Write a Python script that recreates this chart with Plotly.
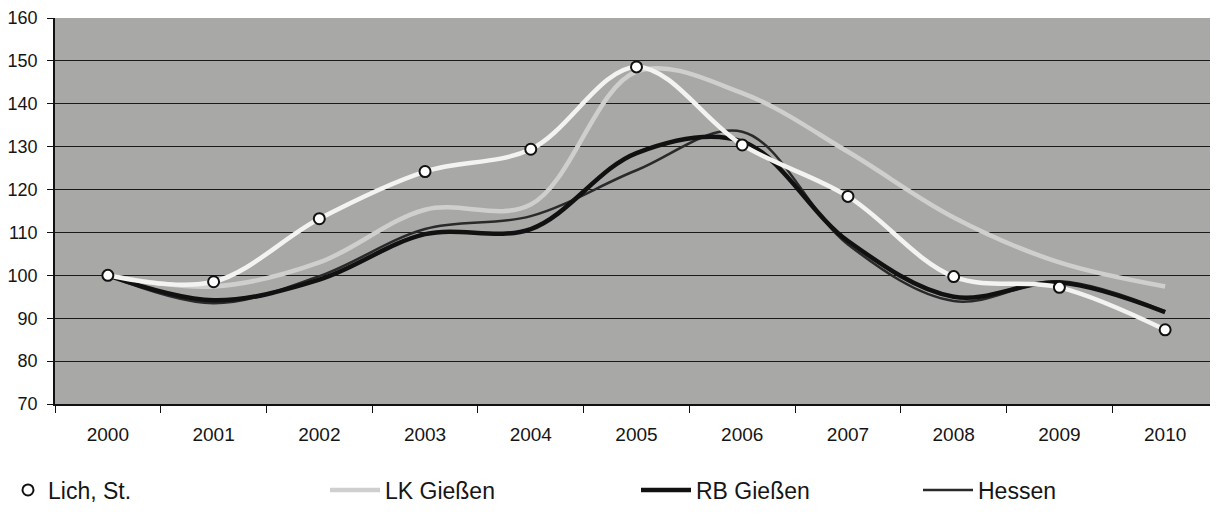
import plotly.graph_objects as go

years = ["2000", "2001", "2002", "2003", "2004", "2005", "2006", "2007", "2008", "2009", "2010"]
lich = [100, 98.5, 113.2, 124.2, 129.4, 148.6, 130.4, 118.4, 99.7, 97.2, 87.3]
lk_giessen = [100, 97.4, 103, 115.3, 116.5, 147.5, 142.5, 128.8, 113.5, 103, 97.4]
rb_giessen = [100, 94.2, 99, 109.6, 110.8, 128.5, 131.2, 108, 95, 98.3, 91.4]
hessen = [100, 93.5, 99.8, 110.8, 113.8, 124.5, 133.5, 107.2, 94, 98.6, 91.6]

y_ticks = [70, 80, 90, 100, 110, 120, 130, 140, 150, 160]

FONT = "Liberation Sans, Arial"
# page offset caused by the default 8px body margin
OFF = 8
W, H = 1210, 503
L, T = 55 - OFF, 18 - OFF
B = H - (404 - OFF)
R = 0


def cx(page_px):
    return max(page_px - OFF, 0) / W


def cy(page_py):
    return 1 - (page_py - OFF) / H


fig = go.Figure()

fig.add_trace(go.Scatter(
    x=years, y=lk_giessen, mode="lines", name="LK Gießen",
    line=dict(color="#cfcfcd", width=4.5, shape="spline", smoothing=1),
    legend="legend2"))
fig.add_trace(go.Scatter(
    x=years, y=hessen, mode="lines", name="Hessen",
    line=dict(color="#2a2a2a", width=2.5, shape="spline", smoothing=1),
    legend="legend4"))
fig.add_trace(go.Scatter(
    x=years, y=rb_giessen, mode="lines", name="RB Gießen",
    line=dict(color="#111111", width=4.5, shape="spline", smoothing=1),
    legend="legend3"))
fig.add_trace(go.Scatter(
    x=years, y=lich, mode="lines", name="Lich, St.", showlegend=False,
    line=dict(color="#f3f3f1", width=4.5, shape="spline", smoothing=1)))
fig.add_trace(go.Scatter(
    x=years, y=lich, mode="markers", name="Lich, St.",
    marker=dict(symbol="circle", size=11, color="white",
                line=dict(color="#111111", width=2)),
    legend="legend"))

leg_common = dict(orientation="h", yanchor="middle", xanchor="left",
                  xref="container", yref="container",
                  bgcolor="rgba(0,0,0,0)", borderwidth=0,
                  font=dict(family=FONT, size=23, color="#151515"))
ly = cy(490)

fig.update_layout(
    width=W, height=H,
    margin=dict(l=L, r=R, t=T, b=B, autoexpand=False),
    paper_bgcolor="white",
    plot_bgcolor="#a8a9a7",
    font=dict(family=FONT, color="#151515"),
    xaxis=dict(
        type="category", categoryorder="array", categoryarray=years,
        range=[-0.5, 10.5], automargin=False,
        showgrid=False, showline=True, linecolor="#111111", linewidth=1.5,
        ticks="outside", ticklen=7, tickcolor="#111111", tickson="boundaries",
        tickfont=dict(family=FONT, size=19, color="#151515"),
        ticklabelstandoff=12, zeroline=False,
    ),
    yaxis=dict(
        range=[70, 160], tickvals=y_ticks, automargin=False,
        ticklabeloverflow="allow",
        showgrid=True, gridcolor="#1a1a1a", gridwidth=1.3,
        showline=True, linecolor="#111111", linewidth=1.5,
        ticks="outside", ticklen=6, tickcolor="#111111",
        tickfont=dict(family=FONT, size=18, color="#151515"),
        ticklabelstandoff=6, zeroline=False,
    ),
    legend=dict(**leg_common, x=cx(0), y=ly, itemwidth=30),
    legend2=dict(**leg_common, x=cx(325), y=ly, itemwidth=50),
    legend3=dict(**leg_common, x=cx(636), y=ly, itemwidth=50),
    legend4=dict(**leg_common, x=cx(918), y=ly, itemwidth=50),
)

fig.write_html("out.html")
